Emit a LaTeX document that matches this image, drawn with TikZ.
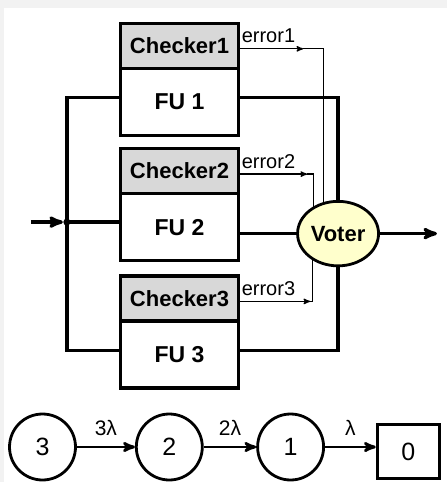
\documentclass[tikz,border=0pt]{standalone}
\usepackage{fontspec}
\setmainfont{Liberation Sans}
\usetikzlibrary{arrows,positioning,backgrounds,shapes.geometric}
\definecolor{checkgray}{RGB}{216,216,216}
\definecolor{voteryellow}{RGB}{255,255,204}
\definecolor{pagegray}{RGB}{242,242,242}
\tikzset{
    %Define standard arrow tip
    >=stealth',
    %Define style for boxes
    checker/.style={
           rectangle,
           draw=black, line width=3.3pt,
           minimum width=118pt,
           minimum height=45pt,
           font=\fontsize{22pt}{24pt}\selectfont\bfseries,
           text centered,
           fill=checkgray},
    fubox/.style={
           rectangle,
           draw=black, line width=3.3pt,
           minimum width=118pt,
           minimum height=67pt,
           font=\fontsize{23pt}{25pt}\selectfont\bfseries,
           text centered,
           fill=white},
    voter/.style={
           ellipse,
           draw=black, line width=2.8pt,
           minimum width=81pt,
           minimum height=64.5pt,
           inner sep=0pt,
           font=\fontsize{22pt}{24pt}\selectfont\bfseries,
           fill=voteryellow},
    statenode/.style={
           circle,
           draw=black, line width=2.8pt,
           minimum size=66pt,
           inner sep=0pt,
           font=\fontsize{25pt}{27pt}\selectfont},
    absorb/.style={
           rectangle,
           draw=black, line width=3.3pt,
           minimum width=62pt,
           minimum height=54pt,
           font=\fontsize{25pt}{27pt}\selectfont},
    % Define line styles
    bus/.style={line width=3.3pt},
    errline/.style={line width=1.3pt},
    chainarr/.style={->, line width=2.8pt},
    errlabel/.style={font=\fontsize{20pt}{22pt}\selectfont, inner sep=1pt},
    ratelabel/.style={font=\fontsize{21pt}{23pt}\selectfont, midway, above=7pt}
}
\begin{document}
\begin{tikzpicture}[x=1pt,y=-1pt,node distance=12pt]

 % page
 \useasboundingbox (0,0) rectangle (447,482);
 \begin{scope}[on background layer]
  \fill[pagegray] (0,0) rectangle (447,482);
  \fill[white] (4,7.5) rectangle (447,482);
 \end{scope}

 %nodes
 \node[checker] (c1) at (179.5,45.8) {Checker1};
 \node[fubox, below=-3.3pt of c1] (f1) {FU 1};
 \node[checker, below=10pt of f1] (c2) {Checker2};
 \node[fubox, below=-3.3pt of c2] (f2) {FU 2};
 \node[checker, below=12pt of f2] (c3) {Checker3};
 \node[fubox, below=-3.3pt of c3] (f3) {FU 3};
 \node[voter, right=56pt of f2, yshift=-6.5pt] (v) {Voter};

 \coordinate[left=52pt of f2.west, yshift=5pt] (split);
 \coordinate[left=36pt of split] (in);
 \coordinate[right=57pt of v] (out);
 \foreach \i/\a/\e in {1/63/83, 2/67/73, 3/70/72} {
   \coordinate (eo\i) at ([yshift=-3pt]c\i.east);
   \coordinate (a\i) at ([xshift=\a pt]eo\i);
   \coordinate (e\i) at ([xshift=\e pt]eo\i);
 }

 % bus lines
 \begin{scope}[on background layer]
  \draw[bus] (split) |- ([yshift=4pt]f1.west);
  \draw[bus] (split) |- ([yshift=4pt]f3.west);
  \draw[bus] (split) -- (split -| f2.west);
  \draw[bus] ([yshift=4pt]f1.east) -| (v);
  \draw[bus] ([yshift=4pt]f3.east) -| (v);
  \draw[bus] (f2.east |- v) -- (v);
  \foreach \i in {1,2,3}
   \draw[errline] (a\i) -- (e\i) -- (e\i |- v.center);
 \end{scope}
 \draw[bus,->,shorten >=4pt] (in) -- (split);
 \fill (split) circle (3.5pt);
 \draw[bus,->] (v) -- (out);
 \foreach \i in {1,2,3}
  \draw[errline,->] (eo\i) -- (a\i)
    node[errlabel, pos=0, anchor=south west, yshift=4pt] {error\i};

 % chain
 \node[statenode] (s3) at (42.5,447) {3};
 \node[statenode, right=58pt of s3] (s2) {2};
 \node[statenode, right=52.5pt of s2] (s1) {1};
 \node[absorb, right=50.75pt of s1, yshift=-4.5pt] (z0) {0};
 \draw[chainarr] (s3) -- (s2) node[ratelabel] {3λ};
 \draw[chainarr] (s2) -- (s1) node[ratelabel] {2λ};
 \draw[chainarr] (s1) -- (s1 -| z0.west) node[ratelabel] {λ};

\end{tikzpicture}
\end{document}
